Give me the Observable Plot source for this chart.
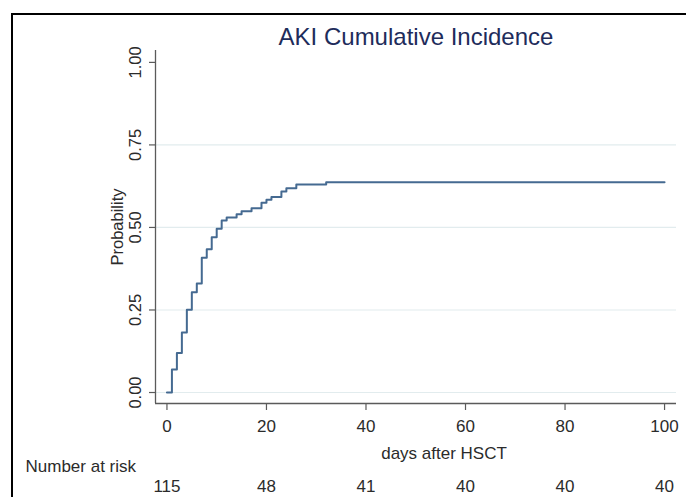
<!DOCTYPE html>
<html>
<head>
<meta charset="utf-8">
<script src="https://cdn.jsdelivr.net/npm/d3@7"></script>
<script src="https://cdn.jsdelivr.net/npm/@observablehq/plot@0.6"></script>
<style>
  html, body { margin: 0; padding: 0; background: #fff; }
  #wrap { position: relative; width: 686px; height: 497px; overflow: hidden; }
  #wrap svg { position: absolute; left: 0; top: 0; }
  #edge { position: absolute; left: 11px; top: 13px; right: -10px; bottom: -10px;
          border-left: 2px solid #000; border-top: 2px solid #000; }
</style>
</head>
<body>
<div id="wrap"><div id="edge"></div></div>
<script>
// Cumulative incidence of AKI: step times (days after HSCT) and probabilities
const days = [0, 1, 2, 3, 4, 5, 6, 7, 8, 9, 10, 11, 12, 14, 15, 17, 19, 20, 21, 23, 24, 26, 32, 100];
const prob = [0, 0.070, 0.120, 0.182, 0.251, 0.304, 0.330, 0.408, 0.434, 0.470, 0.496, 0.521, 0.530,
              0.540, 0.549, 0.558, 0.575, 0.584, 0.592, 0.609, 0.619, 0.630, 0.637, 0.637];

// Axis ticks
const xTicks = [0, 20, 40, 60, 80, 100];
const yTicks = [0, 0.25, 0.5, 0.75, 1];
const gridTicks = [0, 0.25, 0.5, 0.75];

// Number at risk under each x tick
const riskDays = [0, 20, 40, 60, 80, 100];
const riskN = [115, 48, 41, 40, 40, 40];

const xDomain = [-2.3, 102.4];
const yDomain = [-0.0333, 1.036];

const curve = days.map((d, i) => ({day: d, p: prob[i]}));
const risk = riskDays.map((d, i) => ({day: d, n: riskN[i]}));

const font = "'Liberation Sans', Arial, Helvetica, sans-serif";
const axisColor = "#5a5a5a";
const textColor = "#2b2b2b";

const chart = Plot.plot({
  width: 686,
  height: 497,
  marginLeft: 155,
  marginRight: 10,
  marginTop: 50,
  marginBottom: 94,
  style: {fontFamily: font, background: "transparent", overflow: "visible"},
  x: {domain: xDomain, axis: null},
  y: {domain: yDomain, axis: null},
  marks: [
    // light horizontal grid
    Plot.ruleY(gridTicks, {stroke: "#e2ecee", strokeWidth: 1.2}),
    // axis lines
    Plot.ruleX([xDomain[0]], {stroke: axisColor, strokeWidth: 1.3}),
    Plot.ruleY([yDomain[0]], {stroke: axisColor, strokeWidth: 1.3}),
    // tick stubs (labels drawn separately)
    Plot.axisX({ticks: xTicks, tickSize: 7, tickFormat: () => "", label: null,
      stroke: axisColor, strokeWidth: 1.2, strokeOpacity: 1}),
    Plot.axisY({ticks: yTicks, tickSize: 6, tickFormat: () => "", label: null,
      stroke: axisColor, strokeWidth: 1.2, strokeOpacity: 1}),
    // step curve
    Plot.line(curve, {x: "day", y: "p", curve: "step-after", stroke: "#456a91", strokeWidth: 2}),
    // title
    Plot.text(["AKI Cumulative Incidence"], {frameAnchor: "top", text: d => d, dy: -13,
      lineAnchor: "middle", fontSize: 24, fill: "#1e2c5b"}),
    // y tick labels
    Plot.text(yTicks, {y: d => d, text: d => d.toFixed(2), frameAnchor: "left", dx: -20,
      rotate: -90, textAnchor: "middle", lineAnchor: "middle", fontSize: 16.5, fill: textColor}),
    Plot.text(["Probability"], {frameAnchor: "left", text: d => d, dx: -38, rotate: -90,
      textAnchor: "middle", lineAnchor: "middle", fontSize: 16.5, fill: textColor}),
    // x tick labels
    Plot.text(xTicks, {x: d => d, text: d => String(d), frameAnchor: "bottom", dy: 23,
      lineAnchor: "middle", fontSize: 17, fill: textColor}),
    Plot.text(["days after HSCT"], {frameAnchor: "bottom", text: d => d, dx: 28, dy: 50,
      lineAnchor: "middle", fontSize: 17, fill: textColor}),
    // number at risk table
    Plot.text(["Number at risk"], {frameAnchor: "bottom-left", text: d => d, dx: -130, dy: 63,
      textAnchor: "start", lineAnchor: "middle", fontSize: 17, fill: textColor}),
    Plot.text(risk, {x: "day", text: d => String(d.n), frameAnchor: "bottom", dy: 83,
      lineAnchor: "middle", fontSize: 17, fill: textColor})
  ]
});

document.getElementById("wrap").appendChild(chart);
</script>
</body>
</html>
